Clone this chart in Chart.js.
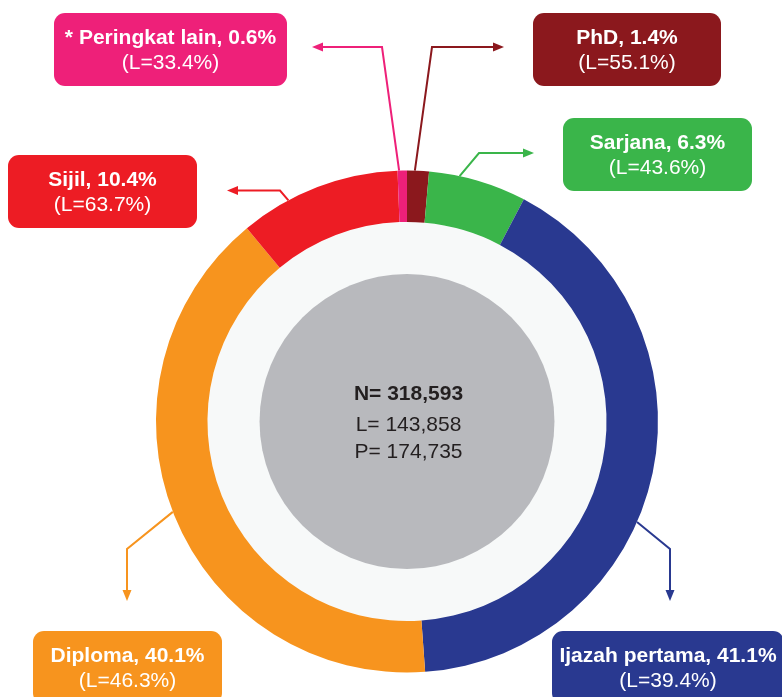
<!DOCTYPE html>
<html>
<head>
<meta charset="utf-8">
<script src="https://cdn.jsdelivr.net/npm/chart.js@4.4.1/dist/chart.umd.min.js"></script>
<style>
html,body{margin:0;padding:0;background:#ffffff;overflow:hidden;}
canvas{display:block;}
</style>
</head>
<body>
<canvas id="c" width="782" height="697"></canvas>
<script>
// ---- data ----
const categories = ["PhD", "Sarjana", "Ijazah pertama", "Diploma", "Sijil", "* Peringkat lain"];
const shares = [1.4, 6.3, 41.1, 40.1, 10.4, 0.6];          // % of N
const maleShares = [55.1, 43.6, 39.4, 46.3, 63.7, 33.4];   // L = % male
const colors = ["#8B181D", "#3AB54A", "#293990", "#F7941E", "#ED1C24", "#EE2079"];
const totalLines = ["N= 318,593", "L= 143,858", "P= 174,735"];

// ---- layout (annotation boxes & connectors, in canvas pixels) ----
const boxes = [
  {x:533, y:13,  w:188, h:73},
  {x:563, y:118, w:189, h:73},
  {x:552, y:631, w:232, h:73},
  {x:33,  y:631, w:189, h:73},
  {x:8,   y:155, w:189, h:73},
  {x:54,  y:13,  w:233, h:73}
];
// start angle (deg clockwise from top) on the outer edge, then elbow and arrow tip
const connectors = [
  {a:1.8,    pts:[[432,47],[504,47]]},
  {a:12.1,   pts:[[479,153],[534,153]]},
  {a:113.6,  pts:[[670,549],[670,601]]},
  {a:-111.1, pts:[[127,549],[127,601]]},
  {a:-28.2,  pts:[[280,190.5],[227,190.5]]},
  {a:-1.8,   pts:[[382,47],[312,47]]}
];

function roundRect(ctx, x, y, w, h, r){
  ctx.beginPath();
  ctx.moveTo(x+r, y);
  ctx.lineTo(x+w-r, y);
  ctx.arcTo(x+w, y, x+w, y+r, r);
  ctx.lineTo(x+w, y+h-r);
  ctx.arcTo(x+w, y+h, x+w-r, y+h, r);
  ctx.lineTo(x+r, y+h);
  ctx.arcTo(x, y+h, x, y+h-r, r);
  ctx.lineTo(x, y+r);
  ctx.arcTo(x, y, x+r, y, r);
  ctx.closePath();
}

const decor = {
  id: 'decor',
  beforeDatasetsDraw(chart){
    const ctx = chart.ctx;
    const arc = chart.getDatasetMeta(0).data[0];
    const p = arc.getProps(['x','y','innerRadius','outerRadius'], true);
    ctx.save();
    ctx.fillStyle = '#F7F9F9';
    ctx.beginPath(); ctx.arc(p.x, p.y, p.innerRadius, 0, Math.PI*2); ctx.fill();
    ctx.fillStyle = '#B8B9BD';
    ctx.beginPath(); ctx.arc(p.x, p.y, p.innerRadius*0.739, 0, Math.PI*2); ctx.fill();
    ctx.restore();
  },
  afterDatasetsDraw(chart){
    const ctx = chart.ctx;
    const meta = chart.getDatasetMeta(0);
    const p = meta.data[0].getProps(['x','y','innerRadius','outerRadius'], true);
    ctx.save();
    // center text
    ctx.fillStyle = '#231F20';
    ctx.textAlign = 'center';
    ctx.textBaseline = 'alphabetic';
    ctx.font = 'bold 21px "Liberation Sans", Arial, sans-serif';
    ctx.fillText(totalLines[0], p.x + 1.5, p.y - 22);
    ctx.font = '21px "Liberation Sans", Arial, sans-serif';
    ctx.fillText(totalLines[1], p.x + 1.5, p.y + 9);
    ctx.fillText(totalLines[2], p.x + 1.5, p.y + 36);

    // connectors
    categories.forEach((c, i) => {
      const con = connectors[i];
      const a = con.a * Math.PI / 180;
      const sx = p.x + p.outerRadius * Math.sin(a);
      const sy = p.y - p.outerRadius * Math.cos(a);
      const pts = [[sx, sy]].concat(con.pts);
      ctx.strokeStyle = colors[i];
      ctx.fillStyle = colors[i];
      ctx.lineWidth = 2;
      ctx.beginPath();
      ctx.moveTo(pts[0][0], pts[0][1]);
      const tip = pts[pts.length-1];
      const prev = pts[pts.length-2];
      const ang = Math.atan2(tip[1]-prev[1], tip[0]-prev[0]);
      const L = 11, Wd = 4.5;
      for (let k = 1; k < pts.length - 1; k++) ctx.lineTo(pts[k][0], pts[k][1]);
      ctx.lineTo(tip[0] - Math.cos(ang)*L*0.8, tip[1] - Math.sin(ang)*L*0.8);
      ctx.stroke();
      ctx.beginPath();
      ctx.moveTo(tip[0], tip[1]);
      ctx.lineTo(tip[0] - Math.cos(ang)*L - Math.sin(ang)*Wd, tip[1] - Math.sin(ang)*L + Math.cos(ang)*Wd);
      ctx.lineTo(tip[0] - Math.cos(ang)*L + Math.sin(ang)*Wd, tip[1] - Math.sin(ang)*L - Math.cos(ang)*Wd);
      ctx.closePath();
      ctx.fill();
    });

    // label boxes
    categories.forEach((c, i) => {
      const b = boxes[i];
      ctx.fillStyle = colors[i];
      roundRect(ctx, b.x, b.y, b.w, b.h, 11);
      ctx.fill();
      ctx.fillStyle = '#FFFFFF';
      ctx.textAlign = 'center';
      ctx.textBaseline = 'alphabetic';
      const cx = b.x + b.w/2;
      ctx.font = 'bold 21px "Liberation Sans", Arial, sans-serif';
      ctx.fillText(c + ', ' + shares[i].toFixed(1) + '%', cx, b.y + 30.5);
      ctx.font = '21px "Liberation Sans", Arial, sans-serif';
      ctx.fillText('(L=' + maleShares[i].toFixed(1) + '%)', cx, b.y + 56);
    });
    ctx.restore();
  }
};

new Chart(document.getElementById('c'), {
  type: 'doughnut',
  data: {
    labels: categories,
    datasets: [{
      data: shares,
      backgroundColor: colors,
      borderWidth: 0,
      hoverBorderWidth: 0,
      hoverOffset: 0
    }]
  },
  options: {
    responsive: false,
    animation: false,
    cutout: '79.5%',
    rotation: 0,
    layout: { padding: { left: 156, right: 124, top: 170.5, bottom: 24.5 } },
    plugins: { legend: { display: false }, tooltip: { enabled: false } },
    events: []
  },
  plugins: [decor]
});
</script>
</body>
</html>
